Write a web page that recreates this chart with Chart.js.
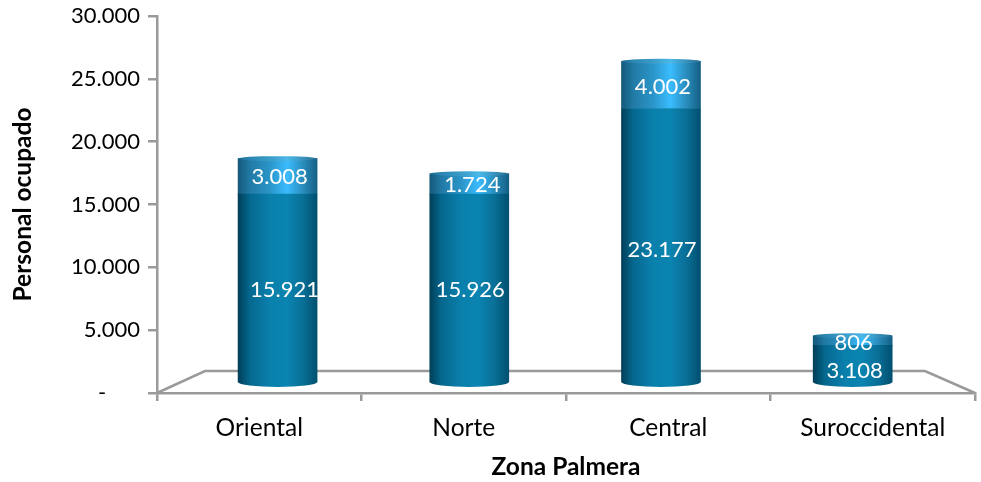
<!DOCTYPE html>
<html>
<head>
<meta charset="utf-8">
<script src="https://cdn.jsdelivr.net/npm/chart.js@4"></script>
<style>
  html, body { margin: 0; padding: 0; background: #fff; }
  canvas { display: block; }
</style>
</head>
<body>
<canvas id="grafico" width="981" height="482"></canvas>
<script>
const categories = ["Oriental", "Norte", "Central", "Suroccidental"];
const serieInferior = [15921, 15926, 23177, 3108];
const serieSuperior = [3008, 1724, 4002, 806];
const yTickLabels = ["-\u00A0\u00A0\u00A0\u00A0\u00A0\u00A0", "5.000", "10.000", "15.000", "20.000", "25.000", "30.000"];

const FUENTE = "Lato, 'Open Sans', sans-serif";
const GRIS = "#9a9a9a";
const ANCHO_BARRA = 79;

const coloresInferior = ["#003f58", "#05688f", "#0a80ac", "#0a84b0", "#0a6f97", "#00506f"];
const coloresSuperior = ["#14597a", "#217aa6", "#2b95c8", "#3abcff", "#2a8dbd", "#145f84"];

// corrimiento a mano de las etiquetas, en el original no quedan centradas
const ajusteInferior = [[5, 2], [-1, 2], [-1, 5], [0, 7]];
const ajusteSuperior = [[0, 1], [1, 1], [0, 2], [-1, 2]];

function degradado(c, x, colores) {
    let g = c.createLinearGradient(x - ANCHO_BARRA / 2, 0, x + ANCHO_BARRA / 2, 0);
    let stops = [0, 0.15, 0.4, 0.62, 0.82, 1];
    colores.forEach(function (col, i) { g.addColorStop(stops[i], col); });
    return g;
}

function relleno(colores) {
    return function (ctx) {
        if (!ctx.parsed) return colores[2];
        let x = ctx.chart.scales.xBars.getPixelForValue(ctx.parsed.x);
        if (!Number.isFinite(x)) return colores[2];
        return degradado(ctx.chart.ctx, x, colores);
    };
}

function elipse(c, x, y, ry) {
    c.beginPath();
    c.ellipse(x, y, ANCHO_BARRA / 2, ry, 0, 0, Math.PI * 2);
    c.fill();
}

// piso en perspectiva detras de las barras
const piso = {
    id: "piso",
    beforeDatasetsDraw(chart) {
        let c = chart.ctx, a = chart.chartArea;
        c.save();
        c.strokeStyle = GRIS;
        c.lineWidth = 2.5;
        c.beginPath();
        c.moveTo(a.left, a.bottom);
        c.lineTo(a.left + 48, a.bottom - 22);
        c.lineTo(a.right - 50, a.bottom - 22);
        c.lineTo(a.right, a.bottom);
        c.stroke();
        c.restore();
    },
};

// tapas de los cilindros y etiquetas de valores
const cilindros = {
    id: "cilindros",
    afterDatasetsDraw(chart) {
        let c = chart.ctx;
        let inf = chart.getDatasetMeta(0).data;
        let sup = chart.getDatasetMeta(1).data;
        c.save();
        inf.forEach(function (bar) {
            c.fillStyle = degradado(c, bar.x, coloresInferior);
            elipse(c, bar.x, bar.base, 5);
        });
        sup.forEach(function (bar) {
            c.fillStyle = degradado(c, bar.x, ["#1a6a8e", "#2a86b2", "#3b9cc8", "#4bb8e8", "#3a92bd", "#256c92"]);
            elipse(c, bar.x, bar.y, 2.5);
        });
        c.fillStyle = "#fff";
        c.font = "22px " + FUENTE;
        c.textAlign = "center";
        c.textBaseline = "middle";
        [[inf, serieInferior, ajusteInferior], [sup, serieSuperior, ajusteSuperior]].forEach(function (par) {
            par[0].forEach(function (bar, i) {
                let txt = String(par[1][i]).replace(/\B(?=(\d{3})+$)/g, ".");
                c.fillText(txt, bar.x + 2 + par[2][i][0], (bar.y + bar.base) / 2 + par[2][i][1]);
            });
        });
        c.restore();
    },
};

new Chart(document.getElementById("grafico").getContext("2d"), {
    type: "bar",
    data: {
        labels: categories,
        datasets: [
            {
                data: serieInferior.map(function (v, i) { return { x: i + 1, y: v }; }),
                backgroundColor: relleno(coloresInferior),
                xAxisID: "xBars",
                yAxisID: "yBars",
                barThickness: ANCHO_BARRA,
            },
            {
                data: serieSuperior.map(function (v, i) { return { x: i + 1, y: v }; }),
                backgroundColor: relleno(coloresSuperior),
                xAxisID: "xBars",
                yAxisID: "yBars",
                barThickness: ANCHO_BARRA,
            },
        ],
    },
    plugins: [piso, cilindros],
    options: {
        responsive: false,
        animation: false,
        devicePixelRatio: 1,
        layout: { padding: { top: 16, right: 6, left: 0, bottom: 0 } },
        plugins: { legend: { display: false }, tooltip: { enabled: false } },
        scales: {
            x: {
                type: "category",
                position: "bottom",
                offset: true,
                afterFit(s) { s.height = 89; },
                border: { color: GRIS, width: 2.5 },
                grid: { offset: true, drawOnChartArea: false, color: GRIS, lineWidth: 2.5, tickLength: 8 },
                ticks: { color: "#000", font: { family: FUENTE, size: 24.5 }, padding: 12, maxRotation: 0 },
                title: {
                    display: true,
                    text: "Zona Palmera",
                    color: "#000",
                    font: { family: FUENTE, size: 24.5, weight: "bold" },
                    padding: { top: 0, bottom: 0 },
                },
            },
            y: {
                type: "linear",
                position: "left",
                min: 0,
                max: 30000,
                afterFit(s) { s.width = 157; s.paddingTop = 0; },
                border: { color: GRIS, width: 2.5 },
                grid: { drawOnChartArea: false, color: GRIS, lineWidth: 2.5, tickLength: 9 },
                ticks: {
                    stepSize: 5000,
                    color: "#000",
                    font: { family: FUENTE, size: 22 },
                    padding: 8,
                    callback: function (v, i) { return yTickLabels[i]; },
                },
                title: {
                    display: true,
                    text: "Personal ocupado",
                    color: "#000",
                    font: { family: FUENTE, size: 24.5, weight: "bold" },
                    padding: { top: 8, bottom: 0 },
                },
            },
            // ejes ocultos: las barras van corridas por la perspectiva 3D
            xBars: { type: "linear", display: false, offset: false, stacked: true, min: 0.371, max: 4.638, grid: { offset: false } },
            yBars: { type: "linear", position: "left", display: false, stacked: true, min: -932, max: 31017 },
        },
    },
});
</script>
</body>
</html>
